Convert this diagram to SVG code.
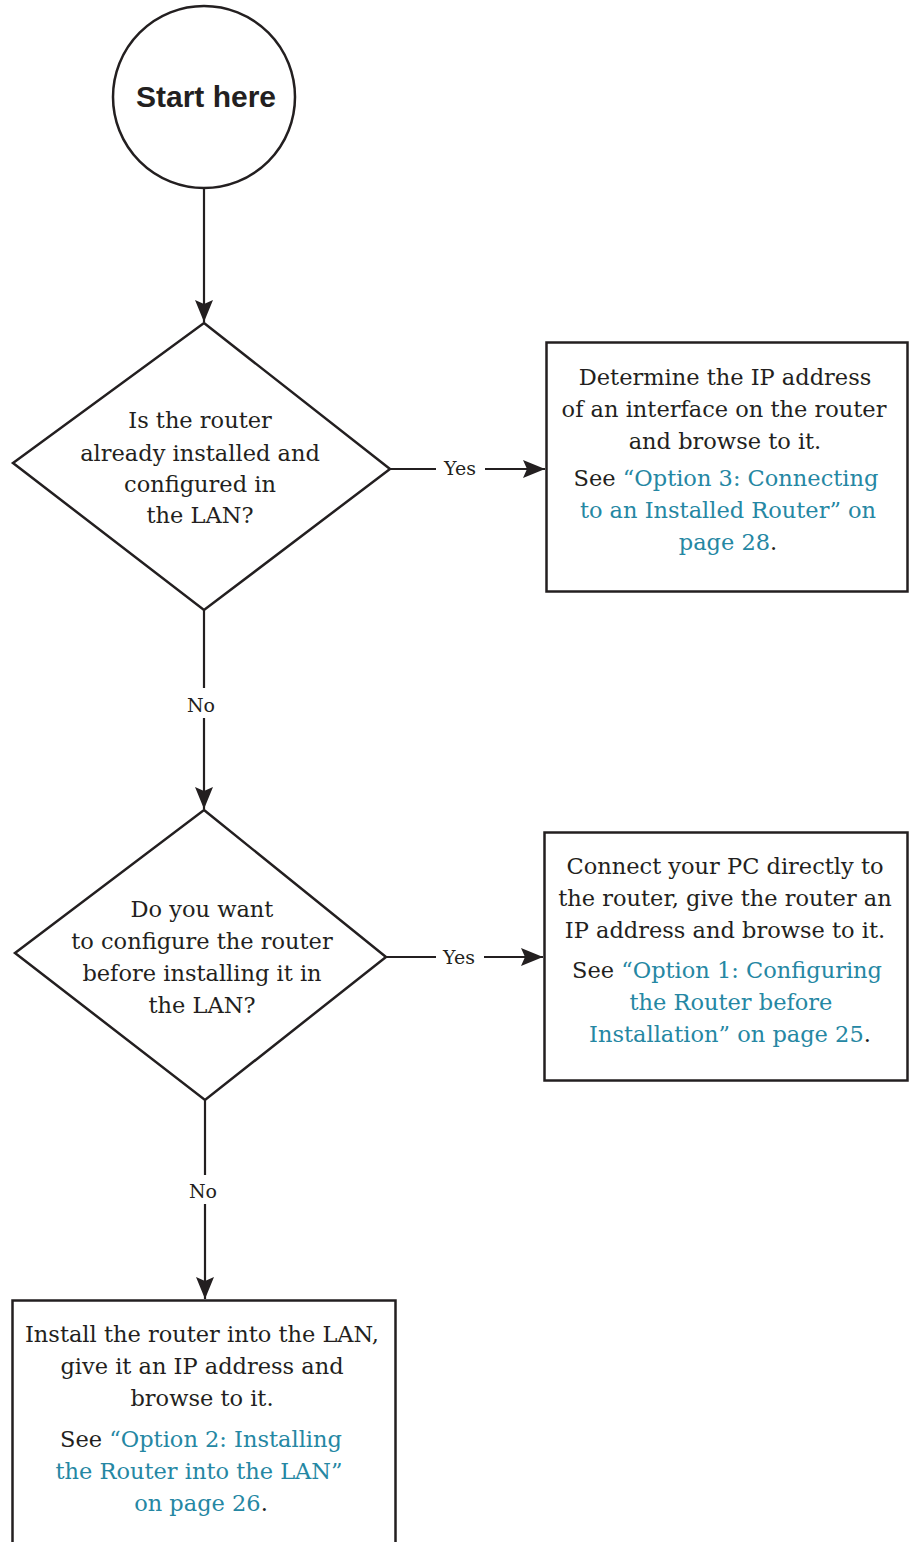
<svg xmlns="http://www.w3.org/2000/svg" width="909" height="1542" viewBox="0 0 909 1542">
<style>
.shape{fill:#fff;stroke:#231f20;stroke-width:2.5}
.line{fill:none;stroke:#231f20;stroke-width:2.2}
.t{font-family:"DejaVu Serif","Liberation Serif",serif;font-size:22.5px;fill:#231f20;text-anchor:middle}
.lbl{font-family:"DejaVu Serif","Liberation Serif",serif;font-size:19px;fill:#231f20;text-anchor:middle}
.link{fill:#2587a3}
.start{font-family:"Liberation Sans",Arial,sans-serif;font-weight:bold;font-size:30px;fill:#231f20;text-anchor:middle}
</style>
<defs>
<marker id="arr" viewBox="0 0 22 18" refX="22" refY="9" markerWidth="22" markerHeight="18" markerUnits="userSpaceOnUse" orient="auto">
<path d="M0,0 L22,9 L0,18 L4,9 Z" fill="#231f20"/>
</marker>
</defs>
<g id="connectors">
<line class="line" x1="204" y1="189" x2="204" y2="322" marker-end="url(#arr)"/>
<line class="line" x1="390" y1="469" x2="436" y2="469"/>
<line class="line" x1="485" y1="469" x2="545" y2="469" marker-end="url(#arr)"/>
<text class="lbl" x="460" y="475">Yes</text>
<line class="line" x1="204" y1="610" x2="204" y2="688"/>
<line class="line" x1="204" y1="718" x2="204" y2="809" marker-end="url(#arr)"/>
<text class="lbl" x="201" y="712">No</text>
<line class="line" x1="386" y1="957" x2="436" y2="957"/>
<line class="line" x1="484" y1="957" x2="543" y2="957" marker-end="url(#arr)"/>
<text class="lbl" x="459" y="964">Yes</text>
<line class="line" x1="205" y1="1100" x2="205" y2="1175"/>
<line class="line" x1="205" y1="1204" x2="205" y2="1299" marker-end="url(#arr)"/>
<text class="lbl" x="203" y="1198">No</text>
</g>
<g id="start">
<circle class="shape" cx="204" cy="97" r="91"/>
<text class="start" x="206" y="107">Start here</text>
</g>
<g id="decision1">
<polygon class="shape" points="204,323 390,469 204,610 13,463"/>
<text class="t" x="200" y="428">Is the router</text>
<text class="t" x="200" y="461">already installed and</text>
<text class="t" x="200" y="492">configured in</text>
<text class="t" x="200" y="523">the LAN?</text>
</g>
<g id="box1">
<rect class="shape" x="546.5" y="342.5" width="361" height="249"/>
<text class="t" x="725" y="385">Determine the IP address</text>
<text class="t" x="724" y="417">of an interface on the router</text>
<text class="t" x="725" y="449">and browse to it.</text>
<text class="t" x="726" y="486">See <tspan class="link">“Option 3: Connecting</tspan></text>
<text class="t" x="728" y="518"><tspan class="link">to an Installed Router” on</tspan></text>
<text class="t" x="728" y="550"><tspan class="link">page 28</tspan>.</text>
</g>
<g id="decision2">
<polygon class="shape" points="204,810 386,957 205,1100 15,953"/>
<text class="t" x="202" y="917">Do you want</text>
<text class="t" x="202" y="949">to configure the router</text>
<text class="t" x="202" y="981">before installing it in</text>
<text class="t" x="202" y="1013">the LAN?</text>
</g>
<g id="box2">
<rect class="shape" x="544.5" y="832.5" width="363" height="248"/>
<text class="t" x="725" y="874">Connect your PC directly to</text>
<text class="t" x="725" y="906">the router, give the router an</text>
<text class="t" x="725" y="938">IP address and browse to it.</text>
<text class="t" x="727" y="978">See <tspan class="link">“Option 1: Configuring</tspan></text>
<text class="t" x="731" y="1010"><tspan class="link">the Router before</tspan></text>
<text class="t" x="730" y="1042"><tspan class="link">Installation” on page 25</tspan>.</text>
</g>
<g id="box3">
<path class="shape" d="M12.5,1545 V1300.5 H395.5 V1545"/>
<text class="t" x="202" y="1342">Install the router into the LAN,</text>
<text class="t" x="202" y="1374">give it an IP address and</text>
<text class="t" x="202" y="1406">browse to it.</text>
<text class="t" x="201" y="1447">See <tspan class="link">“Option 2: Installing</tspan></text>
<text class="t" x="199" y="1479"><tspan class="link">the Router into the LAN”</tspan></text>
<text class="t" x="201" y="1511"><tspan class="link">on page 26</tspan>.</text>
</g>
</svg>
